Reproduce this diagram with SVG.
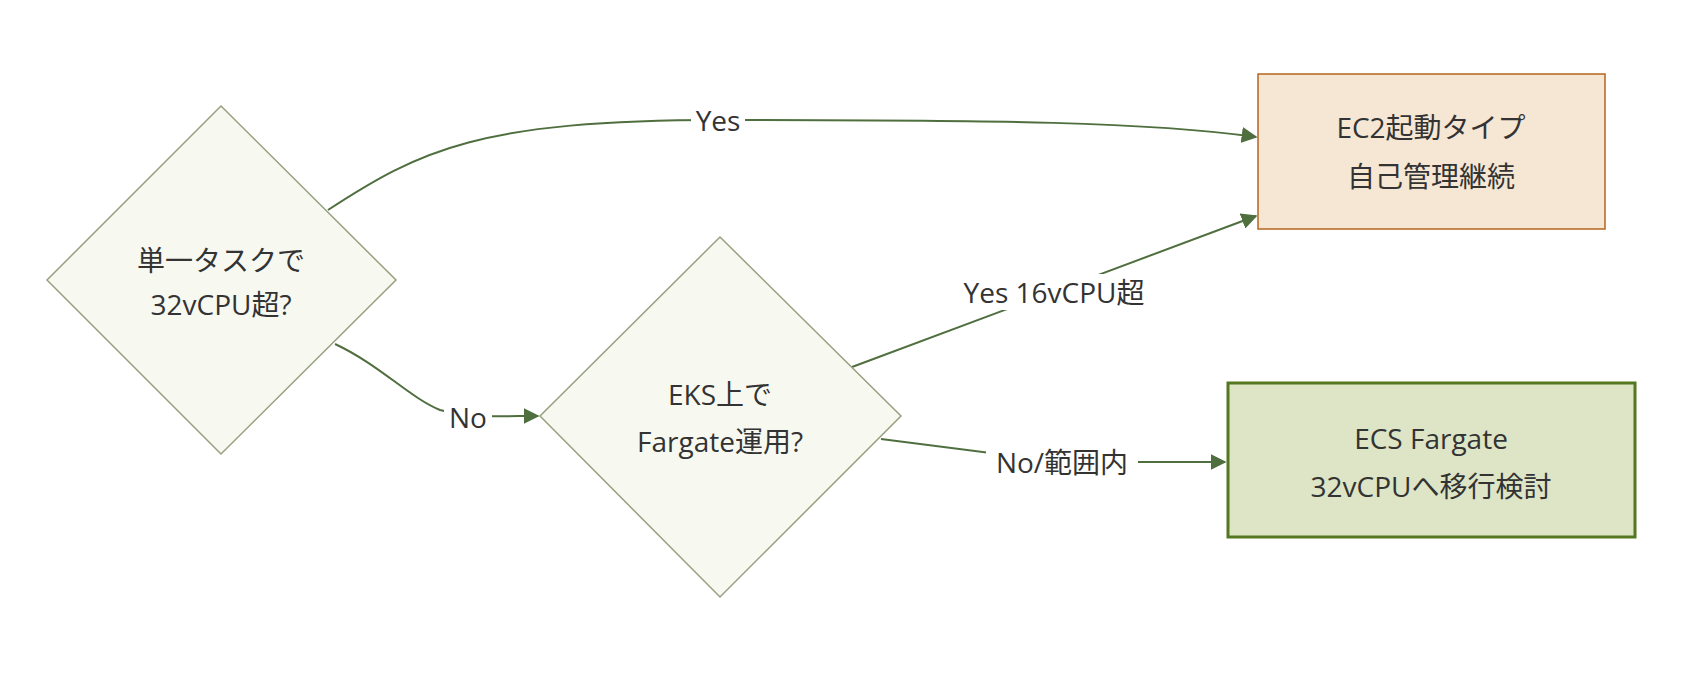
<svg xmlns="http://www.w3.org/2000/svg" width="1686" height="674" viewBox="0 0 1686 674">
<style>
text{font-family:"Open Sans","Noto Sans CJK JP",sans-serif;font-size:28px;fill:#333;text-anchor:middle;dominant-baseline:central}
.dia{fill:#f7f9f1;stroke:#97a07f;stroke-width:1.5}
.e{fill:none;stroke:#4f6f3f;stroke-width:2;marker-end:url(#a)}
.lb{fill:#fff}
</style>
<defs><marker id="a" viewBox="0 0 10 10" refX="9" refY="5" markerWidth="8" markerHeight="8" orient="auto"><path d="M0,0L10,5L0,10z" fill="#4f6f3f"/></marker></defs>
<rect width="1686" height="674" fill="#fff"/>
<g id="edges">
<path class="e" d="M328,210 C420,150 480,120 720,120 C1000,120 1150,122 1256,137"/>
<path class="e" d="M852,367 L1256,216"/>
<path class="e" d="M335,344 C380,365 410,398 440,410 C470,418 500,416 538,416"/>
<path class="e" d="M881,439 L1062,462 L1225,462"/>
<rect class="lb" x="691" y="104" width="54" height="32"/><text x="718" y="120">Yes</text>
<rect class="lb" x="938" y="274" width="232" height="36"/><text x="1054" y="292">Yes 16vCPU超</text>
<rect class="lb" x="444" y="400" width="48" height="34"/><text x="468" y="417">No</text>
<rect class="lb" x="986" y="444" width="152" height="36"/><text x="1062" y="462">No/範囲内</text>
</g>
<g id="n1"><polygon class="dia" points="221,106 396,280 221,454 47,280"/><text x="221" y="260">単一タスクで</text><text x="221" y="304">32vCPU超?</text></g>
<g id="n2"><polygon class="dia" points="720,237 901,416 720,597 540,416"/><text x="720" y="394">EKS上で</text><text x="720" y="441">Fargate運用?</text></g>
<g id="n3"><rect x="1258" y="74" width="347" height="155" fill="#f6e6d4" stroke="#b5651d" stroke-width="1.5"/><text x="1431" y="127">EC2起動タイプ</text><text x="1431" y="176">自己管理継続</text></g>
<g id="n4"><rect x="1228" y="383" width="407" height="154" fill="#dde5c6" stroke="#55771f" stroke-width="3"/><text x="1431" y="438">ECS Fargate</text><text x="1431" y="486">32vCPUへ移行検討</text></g>
</svg>
